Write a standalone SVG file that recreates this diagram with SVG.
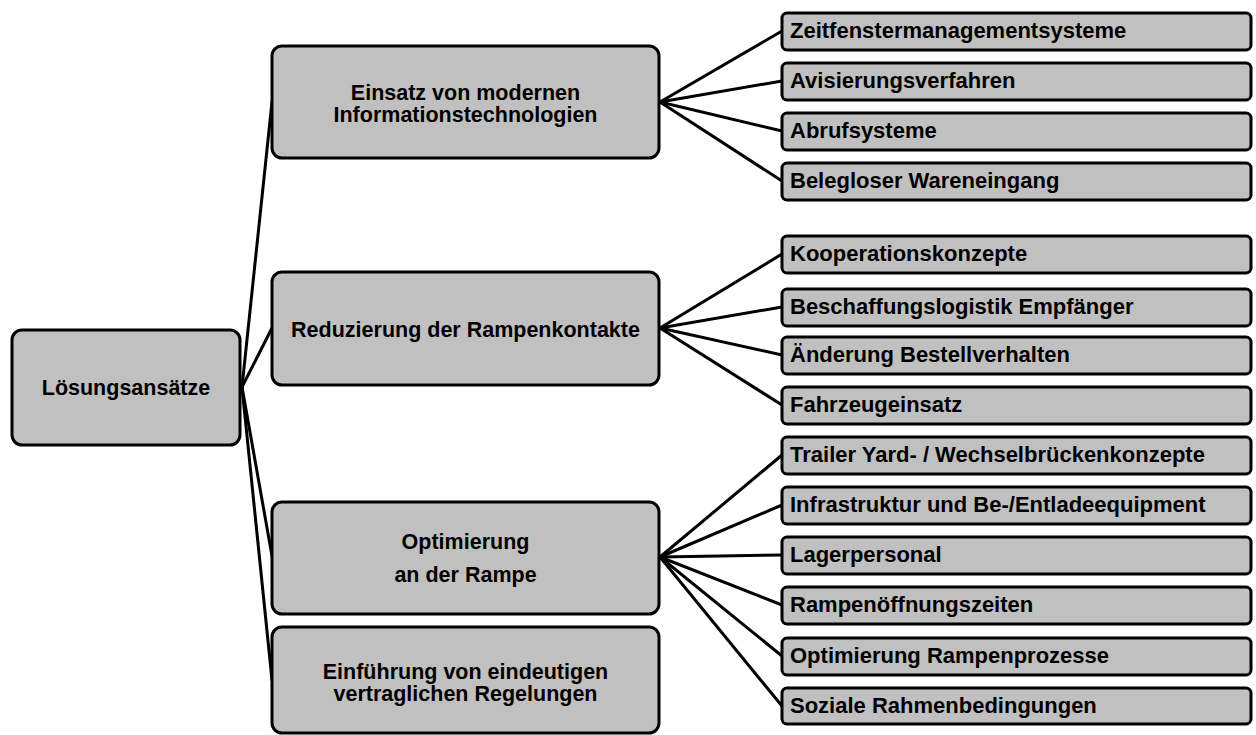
<svg xmlns="http://www.w3.org/2000/svg" width="1256" height="735" viewBox="0 0 1256 735">
<style>
.box{fill:#c0c0c0;stroke:#000;stroke-width:3}
.conn line{stroke:#000;stroke-width:3;stroke-linecap:round}
text{font-family:"Liberation Sans",Arial,Helvetica,sans-serif;font-weight:bold;fill:#000}
.big{font-size:21.5px;text-anchor:middle}
.leaf{font-size:22px}
</style>
<rect width="1256" height="735" fill="#fff"/>
<g id="connectors" class="conn">
<line x1="242" y1="387" x2="272" y2="102"/>
<line x1="242" y1="387" x2="272" y2="328"/>
<line x1="242" y1="387" x2="272" y2="556"/>
<line x1="242" y1="387" x2="272" y2="680"/>
<line x1="660" y1="102" x2="782" y2="31"/>
<line x1="660" y1="102" x2="782" y2="81"/>
<line x1="660" y1="102" x2="782" y2="131"/>
<line x1="660" y1="102" x2="782" y2="181"/>
<line x1="660" y1="328" x2="782" y2="254"/>
<line x1="660" y1="328" x2="782" y2="307"/>
<line x1="660" y1="328" x2="782" y2="355"/>
<line x1="660" y1="328" x2="782" y2="405"/>
<line x1="660" y1="557" x2="782" y2="455"/>
<line x1="660" y1="557" x2="782" y2="505"/>
<line x1="660" y1="557" x2="782" y2="555"/>
<line x1="660" y1="557" x2="782" y2="605"/>
<line x1="660" y1="557" x2="782" y2="656"/>
<line x1="660" y1="557" x2="782" y2="706"/>
</g>
<g id="root"><rect class="box" x="12" y="330" width="228" height="115" rx="10"/><text class="big" x="126" y="395">Lösungsansätze</text></g>
<g id="n1"><rect class="box" x="272" y="46" width="387" height="112" rx="10"/><text class="big" x="465.5" y="100">Einsatz von modernen</text><text class="big" x="465.5" y="122">Informationstechnologien</text></g>
<g id="n2"><rect class="box" x="272" y="272" width="387" height="113" rx="10"/><text class="big" x="465.5" y="337">Reduzierung der Rampenkontakte</text></g>
<g id="n3"><rect class="box" x="272" y="502" width="387" height="112" rx="10"/><text class="big" x="465.5" y="549">Optimierung</text><text class="big" x="465.5" y="582">an der Rampe</text></g>
<g id="n4"><rect class="box" x="272" y="627" width="387" height="106" rx="10"/><text class="big" x="465.5" y="679">Einführung von eindeutigen</text><text class="big" x="465.5" y="701">vertraglichen Regelungen</text></g>
<g id="l1"><rect class="box" x="782" y="13" width="469" height="37" rx="5"/><text class="leaf" x="790" y="38">Zeitfenstermanagementsysteme</text></g>
<g id="l2"><rect class="box" x="782" y="63" width="469" height="37" rx="5"/><text class="leaf" x="790" y="88">Avisierungsverfahren</text></g>
<g id="l3"><rect class="box" x="782" y="113" width="469" height="37" rx="5"/><text class="leaf" x="790" y="138">Abrufsysteme</text></g>
<g id="l4"><rect class="box" x="782" y="163" width="469" height="37" rx="5"/><text class="leaf" x="790" y="188">Belegloser Wareneingang</text></g>
<g id="l5"><rect class="box" x="782" y="236" width="469" height="37" rx="5"/><text class="leaf" x="790" y="261">Kooperationskonzepte</text></g>
<g id="l6"><rect class="box" x="782" y="289" width="469" height="37" rx="5"/><text class="leaf" x="790" y="314">Beschaffungslogistik Empfänger</text></g>
<g id="l7"><rect class="box" x="782" y="337" width="469" height="37" rx="5"/><text class="leaf" x="790" y="362">Änderung Bestellverhalten</text></g>
<g id="l8"><rect class="box" x="782" y="387" width="469" height="37" rx="5"/><text class="leaf" x="790" y="412">Fahrzeugeinsatz</text></g>
<g id="l9"><rect class="box" x="782" y="437" width="469" height="37" rx="5"/><text class="leaf" x="790" y="462">Trailer Yard- / Wechselbrückenkonzepte</text></g>
<g id="l10"><rect class="box" x="782" y="487" width="469" height="37" rx="5"/><text class="leaf" x="790" y="512">Infrastruktur und Be-/Entladeequipment</text></g>
<g id="l11"><rect class="box" x="782" y="537" width="469" height="37" rx="5"/><text class="leaf" x="790" y="562">Lagerpersonal</text></g>
<g id="l12"><rect class="box" x="782" y="587" width="469" height="37" rx="5"/><text class="leaf" x="790" y="612">Rampenöffnungszeiten</text></g>
<g id="l13"><rect class="box" x="782" y="638" width="469" height="37" rx="5"/><text class="leaf" x="790" y="663">Optimierung Rampenprozesse</text></g>
<g id="l14"><rect class="box" x="782" y="688" width="469" height="36" rx="5"/><text class="leaf" x="790" y="713">Soziale Rahmenbedingungen</text></g>
</svg>
